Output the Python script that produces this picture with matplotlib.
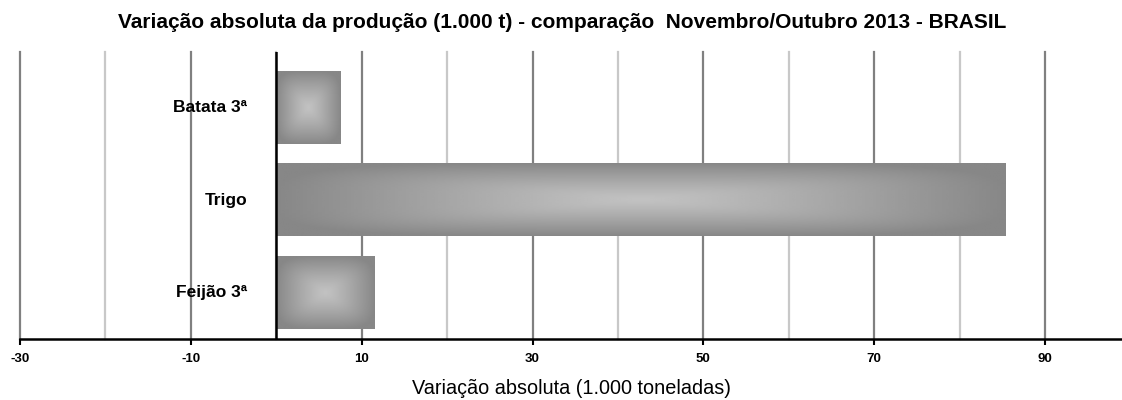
import numpy as np
import matplotlib.pyplot as plt

plt.rcParams['font.family'] = ['Liberation Sans', 'DejaVu Sans']

# dados (1.000 t)
culturas = ["Feijão 3ª", "Trigo", "Batata 3ª"]
variacao = [11.5, 85.4, 7.5]
ticks_maior = [-30, -10, 10, 30, 50, 70, 90]
ticks_menor = [-20, 0, 20, 40, 60, 80]

fig = plt.figure(figsize=(11.22, 4.0), dpi=100)
ax = fig.add_axes([20 / 1122, 1 - 339 / 400, 1102 / 1122, 287 / 400])

# grade vertical
for t in ticks_menor:
    ax.axvline(t, color="#c8c8c8", lw=1.6, zorder=0, clip_on=False)
for t in ticks_maior:
    ax.axvline(t, color="#808080", lw=1.6, zorder=0, clip_on=False)

# barras com gradiente "do centro"
altura = 0.78
n = 200
u = np.linspace(-1, 1, n)
U, V = np.meshgrid(u, u)
d = (np.abs(U) ** 4 + np.abs(V) ** 4) ** 0.25
d = np.clip(d, 0, 1)
grad = 0.76 - (0.76 - 0.53) * d ** 1.2
for i, (nome, val) in enumerate(zip(culturas, variacao)):
    ax.imshow(grad, cmap="gray", vmin=0, vmax=1, aspect="auto",
              extent=(0, val, i - altura / 2, i + altura / 2),
              interpolation="bilinear", zorder=2)
    ax.text(-3.4, i, nome, ha="right", va="center", fontsize=12.5,
            fontweight="bold", zorder=3)

ax.axvline(0, color="black", lw=1.8, zorder=4)

ax.set_xlim(-30, 99)
ax.set_ylim(-0.5, 2.6)
ax.set_yticks([])
ax.set_xticks(ticks_maior)
ax.set_xticklabels([str(t) for t in ticks_maior], fontsize=9.5, fontweight="bold")
ax.tick_params(axis="x", length=4, width=1.5, direction="out", pad=6)
for s in ["left", "right", "top"]:
    ax.spines[s].set_visible(False)
ax.spines["bottom"].set_linewidth(1.8)
ax.spines["bottom"].set_zorder(5)

ax.set_xlabel("Variação absoluta (1.000 toneladas)", fontsize=14.3, labelpad=10)
fig.text(0.501, 1 - 22 / 400,
         "Variação absoluta da produção (1.000 t) - comparação  Novembro/Outubro 2013 - BRASIL",
         ha="center", va="center", fontsize=15, fontweight="bold")

fig.savefig("out.png", dpi=100)
